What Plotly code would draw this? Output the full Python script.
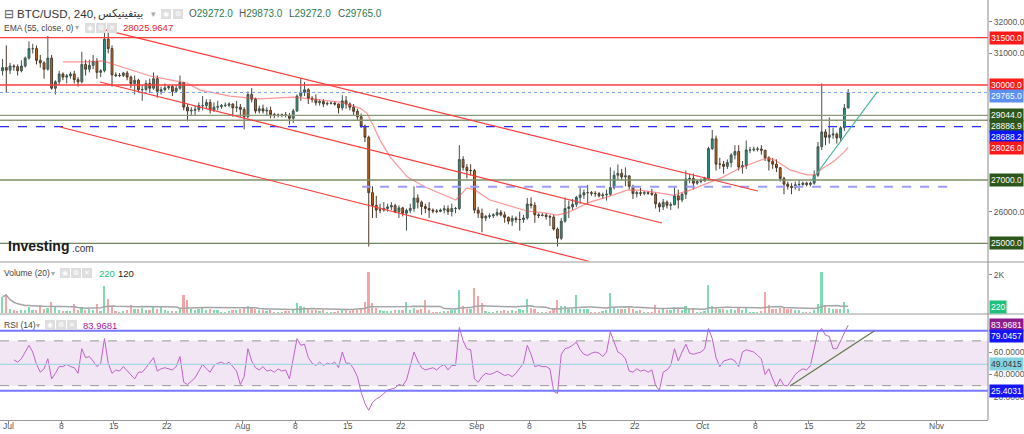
import pandas as pd
import plotly.graph_objects as go

# ---------------- DATA (12h candles, BTC/USD Bitfinex) ----------------
first_open = 30450
candle_start = "2023-06-30 06:00"   # centre of first 12h candle

highs = [30820,31250, 30700,30650, 30650,30780, 30900,31380, 31300,31250, 30950,30750, 31550,30950,
         30150,30450, 30400,30350, 30420,30450, 30250,31050, 30800,30800, 30950,30850, 30500,31800,
         31650,31250, 30400,30380, 30420,30450, 30300,30300, 30200,30000, 30150,30200, 30400,30300,
         29950,30050, 29990,29990, 30000,30300, 30100,29400, 29300,29350, 29450,29650, 29550,29550,
         29450,29500, 29400,29450, 29450,29420, 29500,29400,
         29300,29800, 29900,29600, 29350,29380, 29300,29320, 29120,29100, 29100,29150, 29120,29250,
         29700,30200, 30100,29900, 29650,29700, 29550,29550, 29480,29480, 29480,29420, 29680,29650,
         29450,29400, 29250,29100, 28750,28400, 26800,26500, 26250,26300, 26250,26300, 26250,26200,
         26150,26100, 26250,26800, 26550,26350, 26250,26300, 26100,26080, 26100,26200, 26200,26250,
         26150,28100, 27750,27500, 27500,27350,
         26150,26100, 25900,25950, 25950,26100, 26050,26000, 25850,25880, 25850,26000, 25900,26430,
         26450,26300, 25950,25950, 25950,25900, 25900,25500, 25800,26450, 26350,26400, 26500,26800,
         26700,26850, 26650,26650, 26620,26600, 26700,27400, 27300,27490, 27350,27400, 27150,26850,
         26650,26750, 26650,26640, 26720,26600, 26300,26400, 26350,26300, 26800,26700, 26600,27300,
         27200,27200, 27000,27050,
         27100,28050, 28580,28400, 27700,27600, 27650,27850, 28100,28100, 27600,28250, 28050,28050,
         28050,28100, 27950,27750, 27700,27650, 27400,27100, 26950,26900, 26950,27000, 26950,26950,
         26950,27300, 28200,30050, 28600,28980, 28650,28500, 28700,29400, 29873]

lows = [30300,29750, 30350,30450, 30300,30400, 30550,30800, 31000,30650, 30550,30200, 30450,29850,
        29700,30000, 30150,30050, 30200,30050, 29950,30050, 30300,30400, 30500,30200, 30250,30400,
        31000,29950, 30250,30250, 30250,30150, 29900,29700, 29750,29500, 29800,29750, 29850,29600,
        29700,29800, 29850,29650, 29750,29850, 29200,28850, 29050,29050, 29150,29200, 29250,29100,
        29150,29200, 29250,29300, 29300,29000, 29150,29000,
        28600,28950, 29450,29100, 29100,29100, 29050,28950, 28950,28980, 28980,28980, 28750,28800,
        29150,29500, 29650,29400, 29450,29350, 29350,29300, 29350,29380, 29350,29100, 29200,29250,
        29200,29050, 28900,28650, 28200,24900, 25800,25800, 25950,26000, 26000,26050, 25950,25800,
        25850,25400, 25950,26000, 26100,25900, 25950,25800, 25950,25950, 25980,25950, 25900,25850,
        25950,26050, 27300,27050, 27150,25950,
        25800,25350, 25700,25780, 25800,25850, 25850,25650, 25600,25550, 25650,25400, 25650,25750,
        26100,25650, 25800,25850, 25750,25550, 25400,24900, 25100,25650, 25800,26050, 26150,26250,
        26400,26250, 26500,26470, 26450,26400, 26350,26500, 26700,27000, 27000,26800, 26700,26400,
        26450,26500, 26520,26530, 26500,26100, 25990,26050, 26100,26050, 26200,26100, 26300,26400,
        26900,26700, 26850,26900,
        26950,27000, 27950,27300, 27350,27200, 27350,27400, 27650,27300, 27200,27350, 27850,27900,
        27900,27800, 27600,27300, 27350,27250, 26950,26550, 26700,26550, 26700,26650, 26800,26800,
        26800,26850, 27100,27950, 28100,28150, 28300,28150, 28200,28550, 29272]

closes = [30550,30470, 30600,30580, 30450,30600, 30850,31150, 31150,30780, 30700,30500, 30850,29900,
          30100,30350, 30250,30290, 30350,30170, 30100,30650, 30500,30620, 30750,30400, 30450,31450,
          31150,30320, 30300,30300, 30380,30250, 30050,30150, 29850,29860, 30050,29900, 30200,29800,
          29850,29910, 29950,29800, 29900,30080, 29300,29180, 29200,29230, 29350,29350, 29450,29210,
          29300,29320, 29350,29360, 29400,29280, 29300,29230,
          29000,29700, 29550,29180, 29250,29180, 29200,29070, 29050,29050, 29060,29040, 28950,29180,
          29650,29770, 29850,29580, 29550,29440, 29480,29400, 29420,29430, 29400,29280, 29500,29400,
          29300,29170, 29000,28700, 28350,26600, 26200,26050, 26050,26100, 26150,26190, 26000,26120,
          25950,26040, 26100,26430, 26300,26160, 26100,26050, 26020,26010, 26050,26090, 26000,26100,
          26100,27650, 27400,27300, 27300,26050,
          25950,25800, 25850,25870, 25900,25970, 25900,25820, 25700,25790, 25750,25750, 25800,26240,
          26200,25900, 25880,25890, 25850,25830, 25450,25160, 25700,26100, 26150,26230, 26450,26530,
          26600,26600, 26580,26570, 26500,26530, 26550,26760, 27150,27210, 27100,27130, 26800,26570,
          26600,26580, 26600,26580, 26550,26250, 26150,26300, 26200,26220, 26500,26370, 26550,27030,
          27050,26900, 26950,26970,
          27050,27990, 28300,27500, 27500,27430, 27550,27790, 27900,27410, 27450,27950, 27950,27970,
          27980,27940, 27700,27590, 27500,27390, 27050,26870, 26800,26760, 26850,26860, 26900,26860,
          26900,27150, 28050,28520, 28350,28420, 28450,28330, 28650,29272, 29765]

volumes = [850,1030, 220,160, 140,180, 200,350, 180,210, 430,250, 300,600, 350,200, 120,110, 130,500,
           180,320, 200,220, 180,500, 150,1440, 750,400, 120,100, 110,200, 450,260, 230,280, 200,190,
           350,240, 380,170, 110,150, 130,220, 950,690, 260,200, 240,300, 200,230, 190,180, 90,100,
           110,170, 210,250,
           300,420, 280,230, 170,180, 150,190, 90,80, 80,110, 150,230, 550,380, 330,260, 170,190,
           150,160, 70,80, 90,140, 210,170, 150,200, 180,300, 620,2200, 550,300, 180,150, 110,120,
           170,200, 170,600, 200,300, 180,220, 700,200, 80,70, 70,110, 130,170, 160,1230, 400,260,
           220,1360,
           900,550, 110,90, 80,120, 130,170, 150,190, 140,230, 170,760, 300,260, 90,80, 90,150,
           300,710, 420,380, 260,230, 970,240, 250,230, 90,80, 80,120, 180,1060, 350,250, 220,260,
           300,250, 150,170, 60,70, 90,450, 200,220, 180,170, 330,260, 200,400, 260,280, 90,100,
           120,1500, 400,350, 250,220, 180,250, 200,300, 180,320, 80,70, 70,120, 1150,450, 230,260,
           300,350, 220,240, 200,210, 90,80, 70,160, 500,2200, 450,300, 220,250, 260,600, 220]

rsi_values = [None,None, None,53, 51,54, 60,66, 60,49, 42,45, 54,36, 41,47, 47,49, 47,46, 41,63,
              55,56, 52,47, 50,72, 50,41, 44,43, 47,43, 40,36, 42,42, 46,50, 55,43, 45,46, 45,44,
              47,56, 33,31, 34,37, 43,49, 45,42, 48,50, 51,49, 51,47, 43,31,
              38,63, 52,46, 44,47, 43,44, 42,45, 43,44, 36,54, 72,66, 67,55, 50,48, 51,48, 50,49,
              51,46, 60,50, 50,45, 38,24, 14,8, 15,18, 20,23, 26,27, 28,31, 30,35, 48,60, 52,46,
              44,45, 46,44, 47,49, 44,48, 48,82, 70,63, 62,36,
              33,38, 41,40, 41,43, 41,39, 40,38, 41,45, 50,66, 58,47, 48,47, 47,45, 25,23, 58,63,
              64,66, 69,62, 58,57, 59,60, 59,56, 60,78, 69,60, 58,54, 43,42, 45,43, 44,42, 44,30,
              26,42, 44,48, 63,52, 60,67, 59,58, 59,60,
              63,81, 72,55, 47,52, 53,54, 52,47, 60,62, 61,60, 57,54, 40,45, 36,29, 36,30, 30,35,
              40,43, 45,44, 48,63, 78,81, 75,74, 63,63, 70,78, 83.9681]

ema_dates = ["2023-07-08 06:00", "2023-07-11 04:00", "2023-07-13 13:00", "2023-07-15 04:00",
             "2023-07-17 03:00", "2023-07-19 19:00", "2023-07-22 10:00", "2023-07-24 16:00",
             "2023-07-26 10:00", "2023-07-30 09:00", "2023-08-03 08:00", "2023-08-07 17:00",
             "2023-08-11 07:00", "2023-08-13 23:00", "2023-08-16 14:00", "2023-08-17 12:00",
             "2023-08-18 08:00", "2023-08-19 06:00", "2023-08-20 14:00", "2023-08-22 20:00",
             "2023-08-25 05:00", "2023-08-27 05:00", "2023-08-29 07:00", "2023-08-30 18:00",
             "2023-08-31 20:00", "2023-09-02 19:00", "2023-09-05 02:00", "2023-09-07 17:00",
             "2023-09-10 02:00", "2023-09-11 16:00", "2023-09-13 00:00", "2023-09-16 01:00",
             "2023-09-18 07:00", "2023-09-20 23:00", "2023-09-22 16:00", "2023-09-27 01:00",
             "2023-09-29 07:00", "2023-10-01 13:00", "2023-10-03 16:00", "2023-10-05 22:00",
             "2023-10-08 04:00", "2023-10-09 12:00", "2023-10-10 13:00", "2023-10-12 13:00",
             "2023-10-14 19:00", "2023-10-15 21:00", "2023-10-16 22:00", "2023-10-18 06:00",
             "2023-10-19 14:00", "2023-10-20 06:00"]
ema_values = [30730, 30730, 30760, 30630, 30475, 30285, 30160, 30065, 29840, 29650, 29560, 29620,
              29530, 29460, 29270, 29115, 28730, 28260, 27730, 27100, 26780, 26590, 26370, 26750,
              26680, 26370, 26210, 26020, 25960, 25890, 25960, 26300, 26460, 26680, 26680, 26520,
              26680, 26900, 27090, 27380, 27570, 27700, 27630, 27320, 27160, 27160, 27380, 27570,
              27850, 28026]

# horizontal levels (price, colour)
level_prices = [31500, 30000, 29044.0, 28886.9, 27000, 25000]
level_colors = ["#ff3b3b", "#ff3b3b", "#8a9a78", "#8a9a78", "#7d8f6a", "#6f855d"]
current_price = 29765.0
blue_dash_price = 28688.2
light_dash = ("2023-08-16 21:00", "2023-11-03 03:00", 26790)

# drawn trend lines (date0, price0, date1, price1)
channel_lines = [("2023-07-13 13:00", 31760, "2023-10-08 07:00", 26653),
                 ("2023-07-13 04:00", 30095, "2023-09-25 14:00", 25641),
                 ("2023-07-07 21:00", 28674, "2023-09-16 00:00", 24426)]
teal_line = ("2023-10-15 11:00", 27000, "2023-10-24 03:00", 29789)
rsi_trend = ("2023-10-12 13:00", 29.7, "2023-10-23 18:00", 79.05)

# right-axis value tags (value, background, text colour, vertical shift px)
price_tags = [(31500.0, "#ff1a1a", "white", 0), (30000.0, "#ff1a1a", "white", 0),
              (29765.0, "#5b8ff0", "white", -4), (29044.0, "#2d561c", "white", 0),
              (28886.9, "#2d561c", "white", -6), (28688.2, "#0a14ff", "white", -10),
              (28026.0, "#ff1a1a", "white", 0), (27000.0, "#2d561c", "white", 0),
              (25000.0, "#2d561c", "white", 0)]
rsi_tags = [(83.9681, "#8b1c8b", "white", 0), (79.0457, "#1414ff", "white", -5),
            (49.0415, "#86d3e0", "#333333", 0), (25.4031, "#1414ff", "white", 0)]
vol_tag = (220, "#1fc07a")

price_ticks = [26000, 31000, 32000]
rsi_ticks = [20, 40, 60]
x_tick_dates = ["2023-07-01", "2023-07-08", "2023-07-15", "2023-07-22", "2023-08-01", "2023-08-08",
                "2023-08-15", "2023-08-22", "2023-09-01", "2023-09-08", "2023-09-15", "2023-09-22",
                "2023-10-01", "2023-10-08", "2023-10-15", "2023-10-22", "2023-11-01"]
x_tick_text = ["Jul", "8", "15", "22", "Aug", "8", "15", "22", "Sep", "8", "15", "22",
               "Oct", "8", "15", "22", "Nov"]

# ---------------- GEOMETRY ----------------
W_PLOT, H_PLOT = 988, 420
def px(x): return x / W_PLOT
def py(y): return (H_PLOT - y) / H_PLOT
def price_at(y): return 32000 - (y - 21.7) / 31.66 * 1000

times = pd.date_range(candle_start, periods=len(closes), freq="12h")
opens = [first_open] + closes[:-1]
vol_colors = ["#7fdcb2" if c >= o else "#f4a6a6" for o, c in zip(opens, closes)]
vol_ma = pd.Series(volumes).rolling(20, min_periods=1).mean()

FONT = "Liberation Sans"
fig = go.Figure()

fig.add_trace(go.Candlestick(
    x=times, open=opens, high=highs, low=lows, close=closes,
    increasing=dict(fillcolor="#1f9e89", line=dict(color="#44534c", width=1)),
    decreasing=dict(fillcolor="#cc6a1c", line=dict(color="#4d3a2a", width=1)),
    whiskerwidth=0, xaxis="x", yaxis="y", showlegend=False, hoverinfo="skip"))

fig.add_trace(go.Scatter(x=pd.to_datetime(ema_dates), y=ema_values, mode="lines",
                         line=dict(color="rgba(255,80,80,0.6)", width=1.2),
                         xaxis="x", yaxis="y", showlegend=False, hoverinfo="skip"))

fig.add_trace(go.Bar(x=times, y=volumes, marker=dict(color=vol_colors, line=dict(width=0)),
                     width=12 * 3600 * 1000 * 0.45, xaxis="x", yaxis="y2",
                     showlegend=False, hoverinfo="skip"))
fig.add_trace(go.Scatter(x=times, y=vol_ma, mode="lines", line=dict(color="#a5a5a5", width=1.5),
                         xaxis="x", yaxis="y2", showlegend=False, hoverinfo="skip"))

fig.add_trace(go.Scatter(x=times, y=rsi_values, mode="lines", line=dict(color="#bf63c9", width=1),
                         xaxis="x", yaxis="y3", showlegend=False, hoverinfo="skip",
                         connectgaps=False))

shapes = []
# RSI band and guides
shapes.append(dict(type="rect", xref="paper", yref="y3", x0=0, x1=1, y0=30, y1=70,
                   fillcolor="#f2e5f4", line=dict(width=0), layer="below"))
for v in (70, 30):
    shapes.append(dict(type="line", xref="paper", yref="y3", x0=0, x1=1, y0=v, y1=v,
                       line=dict(color="#9a9a9a", width=1, dash="dash")))
shapes.append(dict(type="line", xref="paper", yref="y3", x0=0, x1=1, y0=49.0415, y1=49.0415,
                   line=dict(color="#a6d8e6", width=1.2)))
for v in (79.0457, 25.4031):
    shapes.append(dict(type="line", xref="paper", yref="y3", x0=0, x1=1, y0=v, y1=v,
                       line=dict(color="#7777ff", width=2)))
shapes.append(dict(type="line", xref="x", yref="y3", x0=rsi_trend[0], y0=rsi_trend[1],
                   x1=rsi_trend[2], y1=rsi_trend[3], line=dict(color="#5f7a4a", width=1.2)))

# price levels
for p, c in zip(level_prices, level_colors):
    shapes.append(dict(type="line", xref="paper", yref="y", x0=0, x1=1, y0=p, y1=p,
                       line=dict(color=c, width=1.3)))
shapes.append(dict(type="line", xref="paper", yref="y", x0=0, x1=1, y0=blue_dash_price,
                   y1=blue_dash_price, line=dict(color="#2a2aff", width=1.3, dash="dash")))
shapes.append(dict(type="line", xref="paper", yref="y", x0=0, x1=1, y0=current_price,
                   y1=current_price, line=dict(color="#7da2ee", width=1, dash="dot")))
shapes.append(dict(type="line", xref="x", yref="y", x0=light_dash[0], x1=light_dash[1],
                   y0=light_dash[2], y1=light_dash[2],
                   line=dict(color="#9c9cff", width=2, dash="dash")))
for d0, p0, d1, p1 in channel_lines:
    shapes.append(dict(type="line", xref="x", yref="y", x0=d0, y0=p0, x1=d1, y1=p1,
                       line=dict(color="#ff3b3b", width=1.2)))
shapes.append(dict(type="line", xref="x", yref="y", x0=teal_line[0], y0=teal_line[1],
                   x1=teal_line[2], y1=teal_line[3], line=dict(color="#45b89e", width=1.2)))

# panel separators and right axis line
for yy in (262, 314):
    shapes.append(dict(type="line", xref="paper", yref="paper", x0=0, x1=1024 / W_PLOT,
                       y0=py(yy), y1=py(yy), line=dict(color="#9a9a9a", width=1)))
shapes.append(dict(type="line", xref="paper", yref="paper", x0=1, x1=1, y0=0, y1=1,
                   line=dict(color="#8a8a8a", width=1)))

# little icon boxes next to the legends
icon_rows = [(9, 19, [161, 173]), (23, 33, [85, 96, 107]), (268, 278, [60, 71, 82]),
             (320, 330, [45, 56, 67])]
for y0, y1, xs in icon_rows:
    for x0 in xs:
        shapes.append(dict(type="rect", xref="paper", yref="paper", x0=px(x0), x1=px(x0 + 10),
                           y0=py(y1), y1=py(y0), fillcolor="#dedede", line=dict(width=0)))

annotations = []
def ann(x, y, text, size=10, color="#333", anchor="left", family=FONT):
    annotations.append(dict(xref="paper", yref="paper", x=px(x), y=py(y), text=text,
                            showarrow=False, xanchor=anchor, yanchor="middle", borderpad=0,
                            font=dict(size=size, color=color, family=family)))

# header
ann(3, 14, "⊟", 12, "#555")
ann(16, 14, "BTC/USD, 240,", 11.5, "#333")
ann(97, 14, "\u200eبيتفينيكس\u200e", 11, "#333", family="DejaVu Sans")
ann(150, 14, "▾", 9, "#aaa")
for xx, lab, val in [(188, "O", "29272.0"), (238, "H", "29873.0"), (288, "L", "29272.0"),
                     (337, "C", "29765.0")]:
    ann(xx, 14, f"<span style='color:#555'>{lab}</span>{val}", 10, "#2d7a4e")
ann(3, 28, "EMA (55, close, 0)", 8.5, "#444")
ann(74, 28, "▾", 8, "#aaa")
ann(122, 28, "28025.9647", 9.5, "#e8212a")
ann(3, 273, "Volume (20)", 8.5, "#444")
ann(50, 273, "▾", 8, "#aaa")
ann(98, 273, "220", 9.5, "#22c07a")
ann(117, 273, "120", 9.5, "#222")
ann(3, 325, "RSI (14)", 8.5, "#444")
ann(35, 325, "▾", 8, "#aaa")
ann(82, 325, "83.9681", 9.5, "#a020a0")
for (y0, y1, xs), glyphs in zip(icon_rows, [["◉", "⚙"], ["◉", "⚙", "✕"], ["◉", "⚙", "✕"],
                                            ["◉", "⚙", "✕"]]):
    for x0, g in zip(xs, glyphs):
        ann(x0 + 5, (y0 + y1) / 2, g, 7, "white", anchor="center", family="DejaVu Sans")
# logo
ann(7, 246, "<b>Investing</b>", 14, "#1a1a1a")
ann(71, 248, ".com", 10, "#333")

# x-axis tick labels (placed just under the axis line)
for d, t in zip(x_tick_dates, x_tick_text):
    annotations.append(dict(xref="x", yref="paper", x=d, y=py(426), text=t, showarrow=False,
                            xanchor="center", yanchor="middle", borderpad=0,
                            font=dict(size=8.5, color="#555", family=FONT)))

# right-axis tags
def tag(value, yref, bg, fg, shift, text):
    annotations.append(dict(xref="paper", yref=yref, x=1, y=value, xanchor="left", xshift=1,
                            yshift=shift, yanchor="middle", text=text, showarrow=False,
                            bgcolor=bg, borderpad=1,
                            font=dict(size=8.5, color=fg, family=FONT)))
for v, bg, fg, sh in price_tags:
    tag(v, "y", bg, fg, sh, f"{v:.1f}")
for v, bg, fg, sh in rsi_tags:
    tag(v, "y3", bg, fg, sh, f"{v:.4f}")
tag(vol_tag[0], "y2", vol_tag[1], "white", 2, f"{vol_tag[0]}")

axis_font = dict(size=8.5, color="#555", family=FONT)
fig.update_layout(
    width=1024, height=434, margin=dict(l=0, r=36, t=0, b=14, autoexpand=False),
    paper_bgcolor="white", plot_bgcolor="white", showlegend=False,
    bargap=0,
    xaxis=dict(type="date", domain=[0, 1], anchor="y3", automargin=False,
               range=["2023-06-29 21:56", "2023-11-07 18:30"],
               tickvals=pd.to_datetime(x_tick_dates), showticklabels=False,
               ticks="outside", ticklen=3, tickcolor="#888", showline=True, linecolor="#999",
               showgrid=False, zeroline=False,
               rangeslider=dict(visible=False), fixedrange=True),
    yaxis=dict(domain=[py(261.5), 1], range=[price_at(261.5), price_at(0)], side="right",
               anchor="x", automargin=False, tickvals=price_ticks, tickformat=".1f",
               ticks="outside", ticklen=3,
               tickcolor="#888", showgrid=False, zeroline=False, tickfont=axis_font),
    yaxis2=dict(domain=[py(313), py(262.5)], range=[0, 2650], side="right", anchor="x",
                automargin=False, tickvals=[2000], ticktext=["2K"], ticks="outside", ticklen=3,
                tickcolor="#888", showgrid=False, zeroline=False, tickfont=axis_font),
    yaxis3=dict(domain=[0, py(315)], range=[-0.7, 93.1], side="right", anchor="x",
                automargin=False, tickvals=rsi_ticks, tickformat=".4f", ticks="outside",
                ticklen=3, tickcolor="#888", showgrid=False, zeroline=False, tickfont=axis_font),
    shapes=shapes, annotations=annotations,
)

fig.write_html("out.html")
